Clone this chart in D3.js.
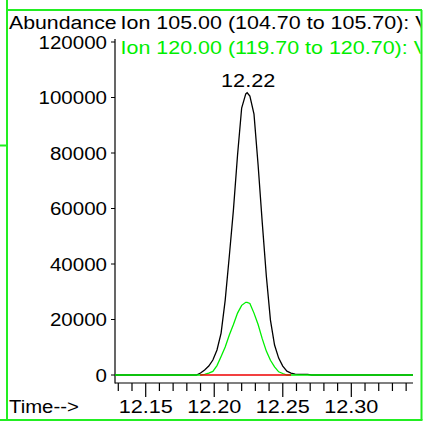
<!DOCTYPE html>
<html><head><meta charset="utf-8">
<script src="https://cdn.jsdelivr.net/npm/d3@7"></script>
<style>
body{margin:0;background:#fff}
svg{display:block}
text{font-family:"Liberation Sans",Arial,sans-serif;font-size:19px}
</style>
</head><body>
<svg id="c" width="425" height="423"></svg>
<script>
// ---- data ----
const times = [12.1276, 12.187, 12.190, 12.193, 12.196, 12.199, 12.202, 12.205, 12.208, 12.211,
  12.214, 12.217, 12.220, 12.223, 12.224, 12.226, 12.229, 12.232, 12.235, 12.238, 12.241,
  12.244, 12.247, 12.250, 12.253, 12.256, 12.259, 12.262, 12.265, 12.268, 12.271, 12.345];
const ion105 = [0, 0, 720, 1800, 3240, 5400, 9000, 15100, 27000, 42900, 59500, 79300, 96200,
  101300, 101700, 100500, 94000, 75700, 55100, 35700, 19800, 10800, 6100, 3200, 1400, 700,
  300, 250, 250, 200, 0, 0];
const ion120 = [0, 0, 0, 250, 700, 1300, 3400, 6700, 10100, 14400, 18200, 22300, 25100, 26200,
  26200, 25800, 22300, 18200, 13100, 8600, 5300, 2900, 1150, 540, 0, 0, 0, 0, 0, 0, 0, 0];
const baselineTimes = [12.1897, 12.256];
const baselineValues = [0, 0];
const yTicks = [0, 20000, 40000, 60000, 80000, 100000, 120000];
const xMajorTicks = [12.15, 12.20, 12.25, 12.30];
const xMinorTicks = [12.13, 12.14, 12.16, 12.17, 12.18, 12.19, 12.21, 12.22, 12.23, 12.24,
  12.26, 12.27, 12.28, 12.29, 12.31, 12.32, 12.33, 12.34];
const peakTime = 12.224, peakValue = 101700, peakLabel = "12.22";
const yTitle = "Abundance", xTitle = "Time-->";
const seriesTitles = ["Ion 105.00 (104.70 to 105.70): V", "Ion 120.00 (119.70 to 120.70): V"];

// ---- drawing ----
const SX = 1.1;
const GREEN = "#00ee00", FRAME = "#22ee22";
const svg = d3.select("#c");
const x = d3.scaleLinear().domain([12.1276, 12.345]).range([115, 413]);
const y = d3.scaleLinear().domain([0, 120000]).range([375, 42]);

// frame
const fr = svg.append("g").attr("stroke", FRAME).attr("fill", "none").attr("stroke-width", 2);
fr.append("line").attr("x1", 7).attr("x2", 7).attr("y1", 0).attr("y2", 421);
fr.append("line").attr("x1", 7).attr("x2", 422).attr("y1", 10).attr("y2", 10);
fr.append("line").attr("x1", 421.5).attr("x2", 421.5).attr("y1", 10).attr("y2", 420);
fr.append("line").attr("x1", 0).attr("x2", 422.5).attr("y1", 420).attr("y2", 420);
fr.append("line").attr("x1", 0).attr("x2", 7).attr("y1", 145.5).attr("y2", 145.5);

svg.append("defs").append("clipPath").attr("id", "clip")
  .append("rect").attr("x", 8).attr("y", 11).attr("width", 412.5).attr("height", 408);
const g = svg.append("g").attr("clip-path", "url(#clip)");

function txt(sel, tx, ty, s, anchor, color, sx) {
  return sel.append("text").attr("transform", `translate(${tx},${ty}) scale(${sx || SX},1)`)
    .attr("text-anchor", anchor || "start").attr("fill", color || "#000").text(s);
}

// titles
txt(g, 9, 29, yTitle, "start", "#000", 1.12);
txt(g, 120.5, 29, seriesTitles[0], "start", "#000", 1.13);
txt(g, 120.5, 53.5, seriesTitles[1], "start", GREEN, 1.13);

// y axis
g.append("line").attr("x1", 115).attr("x2", 115).attr("y1", 39).attr("y2", 383.5)
  .attr("stroke", "#000").attr("stroke-width", 1.2);
const yAx = g.append("g");
yTicks.forEach(v => {
  yAx.append("line").attr("x1", 111).attr("x2", 115).attr("y1", y(v)).attr("y2", y(v))
    .attr("stroke", "#000").attr("stroke-width", 1.2);
  txt(yAx, 107, y(v) + 6.5, d3.format("d")(v), "end", "#000", 1.08);
});

// x axis
g.append("line").attr("x1", 115).attr("x2", 413).attr("y1", 383).attr("y2", 383)
  .attr("stroke", "#000").attr("stroke-width", 1.2);
xMinorTicks.forEach(t => {
  g.append("line").attr("x1", x(t)).attr("x2", x(t)).attr("y1", 383).attr("y2", 391)
    .attr("stroke", "#000").attr("stroke-width", 1.2);
});
xMajorTicks.forEach(t => {
  g.append("line").attr("x1", x(t)).attr("x2", x(t)).attr("y1", 383).attr("y2", 397)
    .attr("stroke", "#000").attr("stroke-width", 1.2);
  txt(g, x(t), 412.5, d3.format(".2f")(t), "middle", "#000", 1.14);
});
txt(g, 9, 412.5, xTitle, "start", "#000", 1.07);

// traces
const line = d3.line().x(d => x(d[0])).y(d => y(d[1]));
g.append("path").datum(times.map((t, i) => [t, ion105[i]])).attr("d", line)
  .attr("fill", "none").attr("stroke", "#000").attr("stroke-width", 1.3);
g.append("path").datum(times.map((t, i) => [t, ion120[i]])).attr("d", line)
  .attr("fill", "none").attr("stroke", GREEN).attr("stroke-width", 1.3);
g.append("path").datum(baselineTimes.map((t, i) => [t, baselineValues[i]])).attr("d", line)
  .attr("fill", "none").attr("stroke", "#ee0000").attr("stroke-width", 1.3);

// peak label
txt(g, x(peakTime) + 1, y(peakValue) - 6, peakLabel, "middle", "#000", 1.14);
</script>
</body></html>
